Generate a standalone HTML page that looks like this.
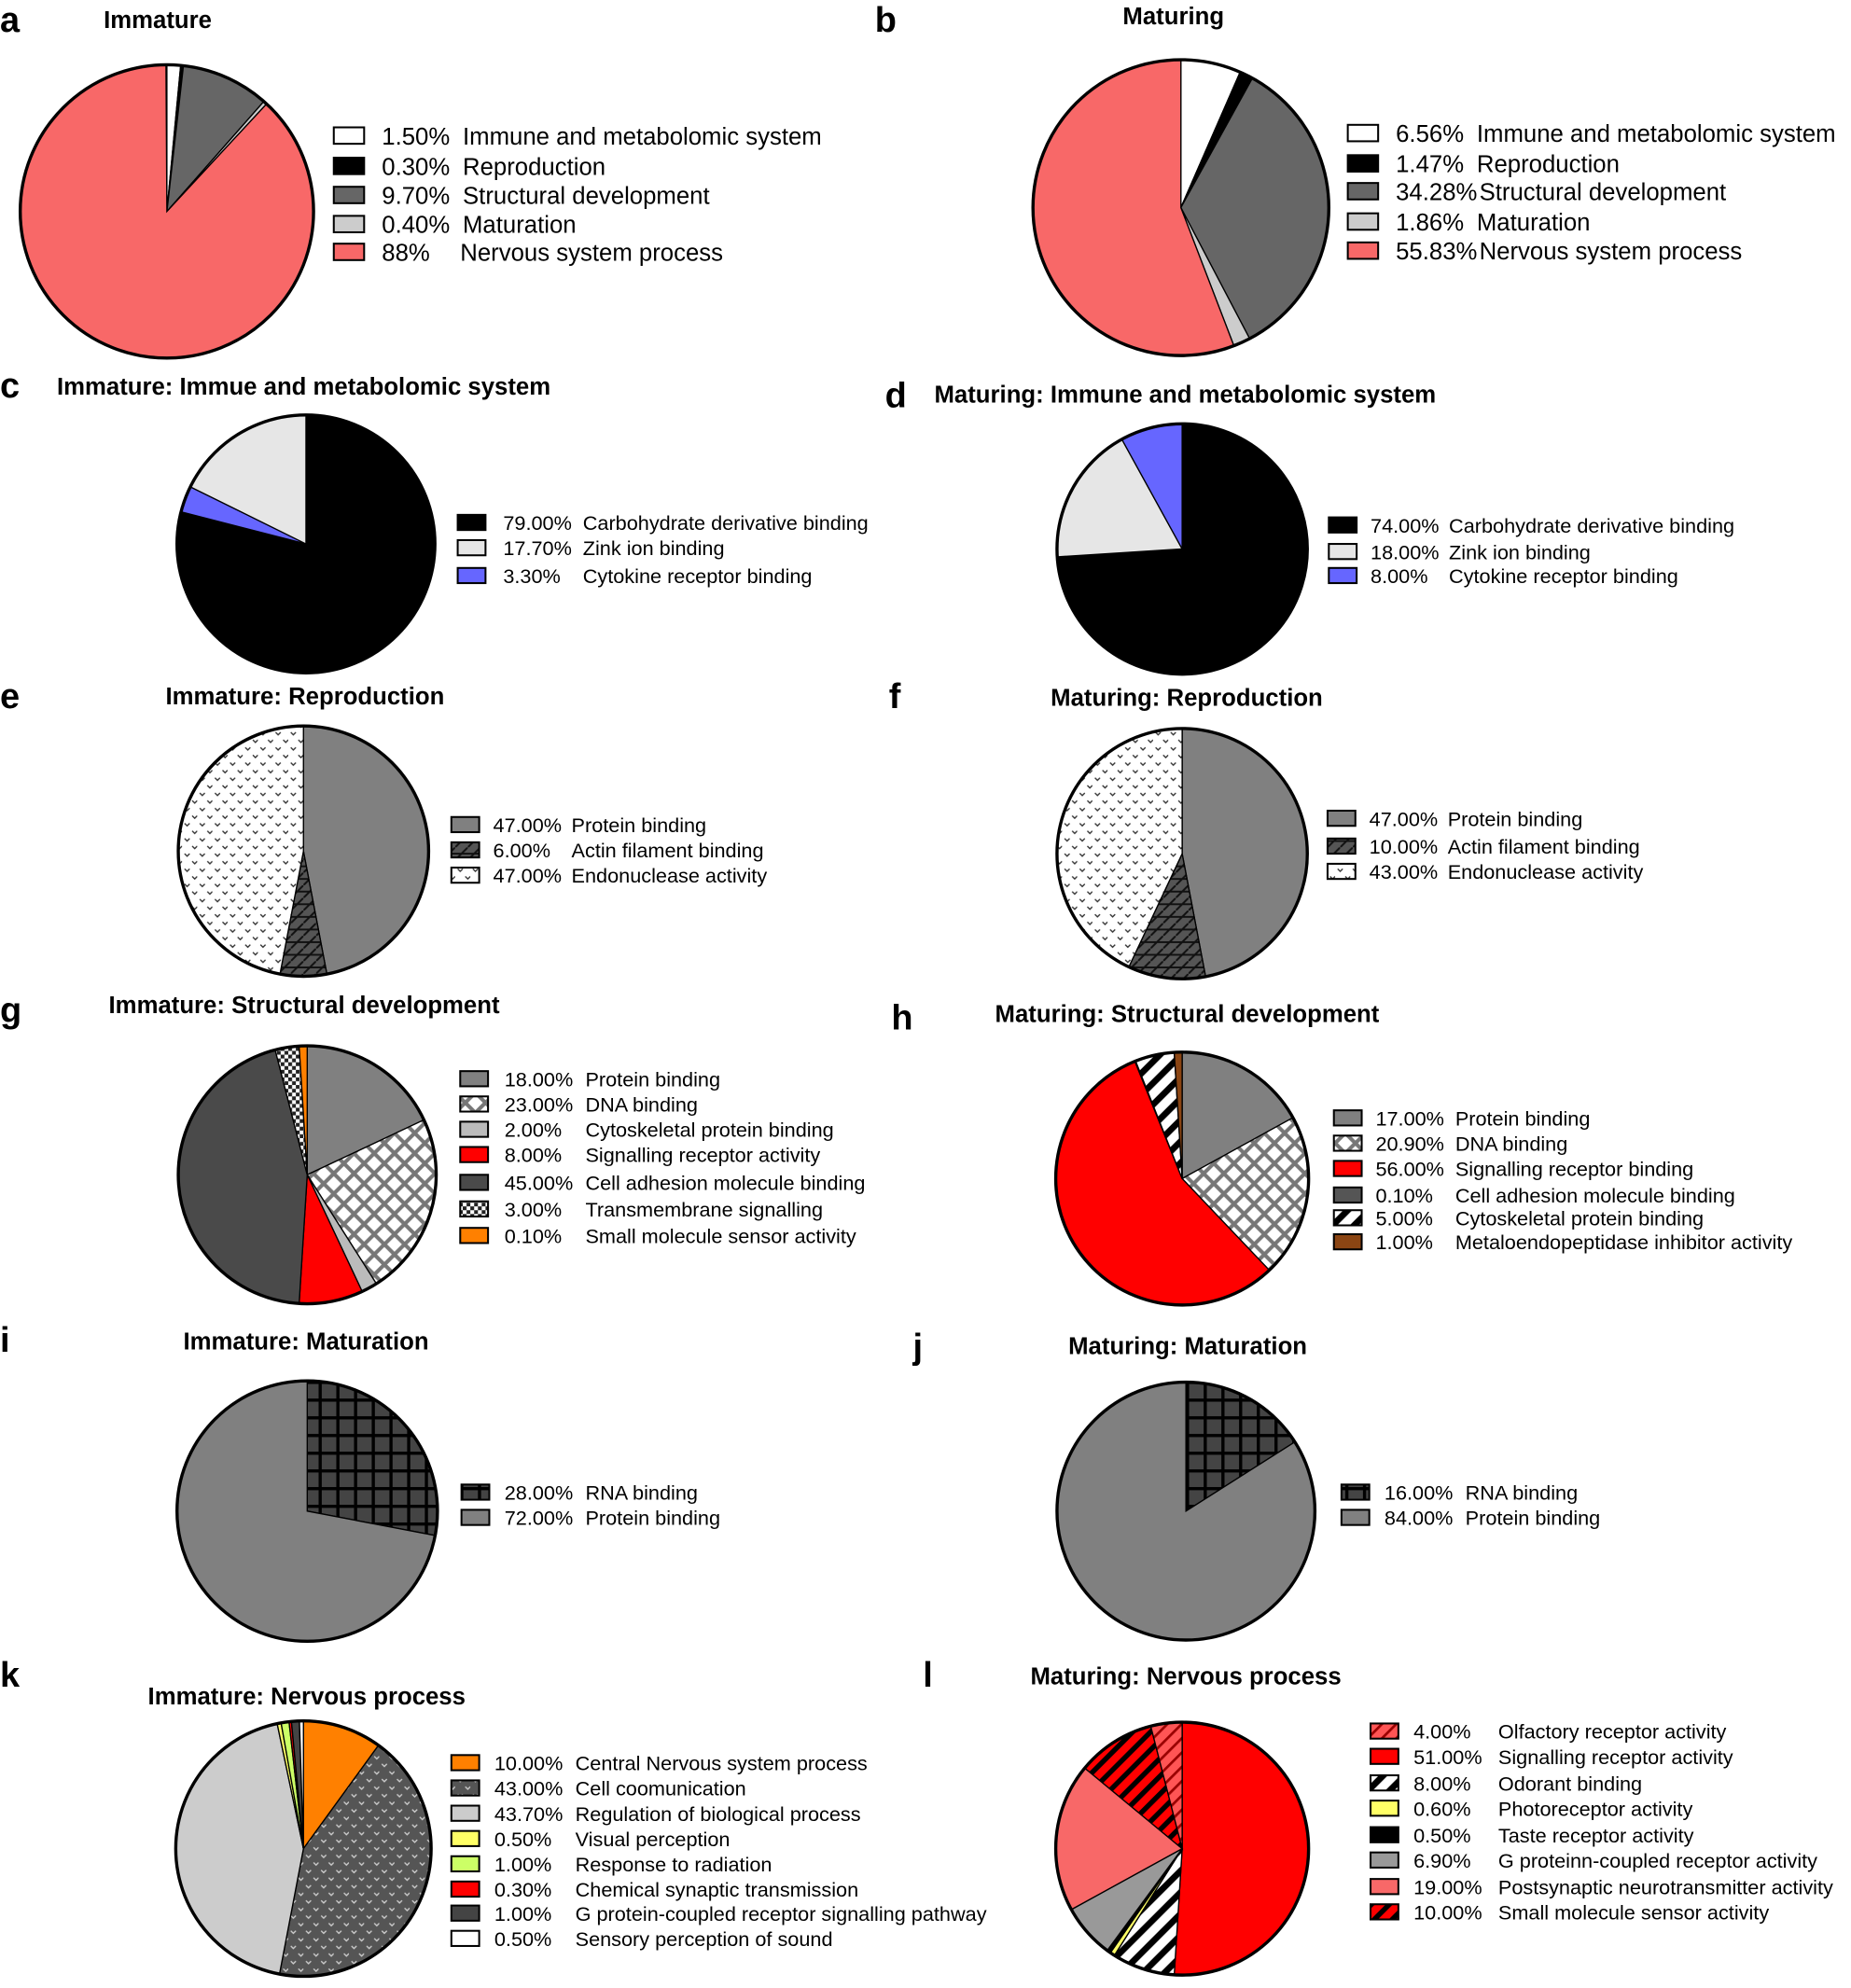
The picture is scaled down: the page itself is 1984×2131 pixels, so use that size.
<!DOCTYPE html>
<html><head><meta charset="utf-8"><style>
html,body{margin:0;padding:0;background:#fff}
svg{display:block}
text{font-family:"Liberation Sans",Arial,sans-serif;fill:#000}
.t{font-weight:bold;font-size:19px}
.L{font-weight:bold;font-size:28px}
.b{font-size:19px}
.s{font-size:16px}
</style></head><body>
<svg id="s" width="1984" height="2131" viewBox="0 0 1464 1572" xmlns="http://www.w3.org/2000/svg">
<defs>
<pattern id="dots" width="12" height="12" patternUnits="userSpaceOnUse"><rect width="12" height="12" fill="#fff"/><path d="M2 3l2 2 2-2M8 9l2 2 2-2" stroke="#333" fill="none" stroke-width="1"/></pattern>
<pattern id="hatch" width="10" height="10" patternUnits="userSpaceOnUse"><rect width="10" height="10" fill="#555"/><path d="M0 10L10 0M0 5h10" stroke="#111" stroke-width="1.5"/></pattern>
<pattern id="diam" width="16" height="16" patternUnits="userSpaceOnUse"><rect width="16" height="16" fill="#fff"/><path d="M0 8L8 0 16 8 8 16Z" fill="none" stroke="#777" stroke-width="3"/></pattern>
<pattern id="check" width="6" height="6" patternUnits="userSpaceOnUse"><rect width="6" height="6" fill="#fff"/><rect width="3" height="3" fill="#222"/><rect x="3" y="3" width="3" height="3" fill="#222"/></pattern>
<pattern id="stripe" width="12" height="12" patternUnits="userSpaceOnUse" patternTransform="rotate(45)"><rect width="12" height="12" fill="#fff"/><rect width="5" height="12" fill="#000"/></pattern>
<pattern id="rstripe" width="10" height="10" patternUnits="userSpaceOnUse" patternTransform="rotate(45)"><rect width="10" height="10" fill="#f00"/><rect width="4" height="10" fill="#000"/></pattern>
<pattern id="olf" width="8" height="8" patternUnits="userSpaceOnUse" patternTransform="rotate(45)"><rect width="8" height="8" fill="#f55"/><rect width="2" height="8" fill="#900"/></pattern>
<pattern id="grid" width="14" height="14" patternUnits="userSpaceOnUse"><rect width="14" height="14" fill="#444"/><path d="M0 1h14M1 0v14" stroke="#000" stroke-width="3"/></pattern>
<pattern id="cdots" width="12" height="12" patternUnits="userSpaceOnUse"><rect width="12" height="12" fill="#555"/><path d="M2 3l2 2 2-2M8 9l2 2 2-2" stroke="#ccc" fill="none" stroke-width="1"/></pattern>
</defs>
<g id="pies"></g>
<g>
<text class="L" x="0" y="25">a</text><text class="t" x="82" y="22">Immature</text>
<text class="L" x="692" y="25">b</text><text class="t" x="888" y="19">Maturing</text>
<text class="L" x="0" y="314">c</text><text class="t" x="45" y="312">Immature: Immue and metabolomic system</text>
<text class="L" x="700" y="322">d</text><text class="t" x="739" y="318">Maturing: Immune and metabolomic  system</text>
<text class="L" x="0" y="560">e</text><text class="t" x="131" y="557">Immature: Reproduction</text>
<text class="L" x="703" y="560">f</text><text class="t" x="831" y="558">Maturing: Reproduction</text>
<text class="L" x="0" y="808">g</text><text class="t" x="86" y="801">Immature: Structural development</text>
<text class="L" x="705" y="814">h</text><text class="t" x="787" y="808">Maturing: Structural development</text>
<text class="L" x="0" y="1069">i</text><text class="t" x="145" y="1067">Immature: Maturation</text>
<text class="L" x="722" y="1074">j</text><text class="t" x="845" y="1071">Maturing: Maturation</text>
<text class="L" x="0" y="1334">k</text><text class="t" x="117" y="1348">Immature: Nervous process</text>
<text class="L" x="730" y="1334">l</text><text class="t" x="815" y="1332">Maturing: Nervous process</text>
</g>
<g id="leg"></g>
</svg>
<script>
var P=document.getElementById('pies');
function pie(cx,cy,r,sl){var a=0,h='';
sl.forEach(function(s){var f=s[0]/100,a0=a,a1=a+f*2*Math.PI;a=a1;
var x0=cx+r*Math.sin(a0),y0=cy-r*Math.cos(a0),x1=cx+r*Math.sin(a1),y1=cy-r*Math.cos(a1);
var lg=(a1-a0)>Math.PI?1:0;
h+='<path d="M'+cx+' '+cy+'L'+x0+' '+y0+'A'+r+' '+r+' 0 '+lg+' 1 '+x1+' '+y1+'Z" fill="'+s[1]+'" stroke="#000" stroke-width="1"/>';});
h+='<circle cx="'+cx+'" cy="'+cy+'" r="'+r+'" fill="none" stroke="#000" stroke-width="2.5"/>';
P.innerHTML+=h;}
var SAL='#f86868',DG='#666',LG='#ccc',GR='#808080';
pie(132,167,116,[[1.5,'#fff'],[0.3,'#000'],[9.7,DG],[0.4,LG],[88,SAL]]);
pie(934,164,117,[[6.56,'#fff'],[1.47,'#000'],[34.28,DG],[1.86,LG],[55.83,SAL]]);
pie(242,430,102,[[79,'#000'],[3.3,'#6666ff'],[17.7,'#e6e6e6']]);
pie(935,434,99,[[74,'#000'],[18,'#e6e6e6'],[8,'#6666ff']]);
pie(240,673,99,[[47,GR],[6,'url(#hatch)'],[47,'url(#dots)']]);
pie(935,675,99,[[47,GR],[10,'url(#hatch)'],[43,'url(#dots)']]);
pie(243,929,102,[[18,GR],[23,'url(#diam)'],[2,'#bbb'],[8,'#f00'],[45,'#4a4a4a'],[3,'url(#check)'],[1,'#ff8000']]);
pie(935,932,100,[[17,GR],[20.9,'url(#diam)'],[56,'#f00'],[0.1,'#444'],[5,'url(#stripe)'],[1,'#8b4513']]);
pie(243,1195,103,[[28,'url(#grid)'],[72,GR]]);
pie(938,1195,102,[[16,'url(#grid)'],[84,GR]]);
pie(240,1462,101,[[10,'#ff8000'],[43,'url(#cdots)'],[43.7,LG],[0.5,'#ffff66'],[1,'#ccff66'],[0.3,'#f00'],[1,'#444'],[0.5,'#fff']]);
pie(935,1462,100,[[51,'#f00'],[8,'url(#stripe)'],[0.6,'#ffff66'],[0.5,'#000'],[6.9,'#999'],[19,SAL],[10,'url(#rstripe)'],[4,'url(#olf)']]);
var G=document.getElementById('leg');
function leg(sx,rows,sw,sh){var h='';rows.forEach(function(r){
h+='<rect x="'+sx+'" y="'+(r[0]-sh/2)+'" width="'+sw+'" height="'+sh+'" fill="'+r[1]+'" stroke="#000" stroke-width="1.5"/>';});G.innerHTML+=h;}
leg(264,[[107,'#fff'],[131,'#000'],[154,DG],[177,LG],[199,SAL]],24,13);
leg(1066,[[105,'#fff'],[129,'#000'],[151,DG],[175,LG],[198,SAL]],24,13);
leg(362,[[413,'#000'],[433,'#e6e6e6'],[455,'#6666ff']],22,12);
leg(1051,[[415,'#000'],[436,'#e6e6e6'],[455,'#6666ff']],22,12);
leg(357,[[652,GR],[672,'url(#hatch)'],[692,'url(#dots)']],22,12);
leg(1050,[[647,GR],[669,'url(#hatch)'],[689,'url(#dots)']],22,12);
leg(364,[[853,GR],[873,'url(#diam)'],[893,'#bbb'],[913,'#f00'],[935,'#4a4a4a'],[956,'url(#check)'],[977,'#ff8000']],22,12);
leg(1055,[[884,GR],[904,'url(#diam)'],[924,'#f00'],[945,'#555'],[963,'url(#stripe)'],[982,'#8b4513']],22,12);
leg(365,[[1180,'url(#grid)'],[1200,GR]],22,12);
leg(1061,[[1180,'url(#grid)'],[1200,GR]],22,12);
leg(357,[[1394,'#ff8000'],[1414,'url(#cdots)'],[1434,LG],[1454,'#ffff66'],[1474,'#ccff66'],[1494,'#f00'],[1513,'#444'],[1533,'#fff']],22,12);
leg(1084,[[1369,'url(#olf)'],[1389,'#f00'],[1410,'url(#stripe)'],[1430,'#ffff66'],[1451,'#000'],[1471,'#999'],[1492,SAL],[1512,'url(#rstripe)']],22,12);
</script>
<svg style="position:absolute;left:0;top:0" width="1984" height="2131" viewBox="0 0 1464 1572" xmlns="http://www.w3.org/2000/svg">
<g>
<text class="b" x="302" y="114">1.50%</text><text class="b" x="366" y="114">Immune and metabolomic system</text>
<text class="b" x="302" y="138">0.30%</text><text class="b" x="366" y="138">Reproduction</text>
<text class="b" x="302" y="161">9.70%</text><text class="b" x="366" y="161">Structural development</text>
<text class="b" x="302" y="184">0.40%</text><text class="b" x="366" y="184">Maturation</text>
<text class="b" x="302" y="206">88%</text><text class="b" x="364" y="206">Nervous system process</text>
<text class="b" x="1104" y="112">6.56%</text><text class="b" x="1168" y="112">Immune and metabolomic system</text>
<text class="b" x="1104" y="136">1.47%</text><text class="b" x="1168" y="136">Reproduction</text>
<text class="b" x="1104" y="158">34.28%</text><text class="b" x="1170" y="158">Structural development</text>
<text class="b" x="1104" y="182">1.86%</text><text class="b" x="1168" y="182">Maturation</text>
<text class="b" x="1104" y="205">55.83%</text><text class="b" x="1170" y="205">Nervous system process</text>
</g>
<g>
<text class="s" x="398" y="419">79.00%</text><text class="s" x="461" y="419">Carbohydrate derivative binding</text>
<text class="s" x="398" y="439">17.70%</text><text class="s" x="461" y="439">Zink ion binding</text>
<text class="s" x="398" y="461">3.30%</text><text class="s" x="461" y="461">Cytokine receptor binding</text>
<text class="s" x="1084" y="421">74.00%</text><text class="s" x="1146" y="421">Carbohydrate derivative binding</text>
<text class="s" x="1084" y="442">18.00%</text><text class="s" x="1146" y="442">Zink ion binding</text>
<text class="s" x="1084" y="461">8.00%</text><text class="s" x="1146" y="461">Cytokine receptor binding</text>
<text class="s" x="390" y="658">47.00%</text><text class="s" x="452" y="658">Protein binding</text>
<text class="s" x="390" y="678">6.00%</text><text class="s" x="452" y="678">Actin filament binding</text>
<text class="s" x="390" y="698">47.00%</text><text class="s" x="452" y="698">Endonuclease activity</text>
<text class="s" x="1083" y="653">47.00%</text><text class="s" x="1145" y="653">Protein binding</text>
<text class="s" x="1083" y="675">10.00%</text><text class="s" x="1145" y="675">Actin filament binding</text>
<text class="s" x="1083" y="695">43.00%</text><text class="s" x="1145" y="695">Endonuclease activity</text>
<text class="s" x="399" y="859">18.00%</text><text class="s" x="463" y="859">Protein binding</text>
<text class="s" x="399" y="879">23.00%</text><text class="s" x="463" y="879">DNA binding</text>
<text class="s" x="399" y="899">2.00%</text><text class="s" x="463" y="899">Cytoskeletal protein binding</text>
<text class="s" x="399" y="919">8.00%</text><text class="s" x="463" y="919">Signalling receptor activity</text>
<text class="s" x="399" y="941">45.00%</text><text class="s" x="463" y="941">Cell adhesion molecule binding</text>
<text class="s" x="399" y="962">3.00%</text><text class="s" x="463" y="962">Transmembrane signalling</text>
<text class="s" x="399" y="983">0.10%</text><text class="s" x="463" y="983">Small molecule sensor activity</text>
<text class="s" x="1088" y="890">17.00%</text><text class="s" x="1151" y="890">Protein binding</text>
<text class="s" x="1088" y="910">20.90%</text><text class="s" x="1151" y="910">DNA binding</text>
<text class="s" x="1088" y="930">56.00%</text><text class="s" x="1151" y="930">Signalling receptor binding</text>
<text class="s" x="1088" y="951">0.10%</text><text class="s" x="1151" y="951">Cell adhesion molecule binding</text>
<text class="s" x="1088" y="969">5.00%</text><text class="s" x="1151" y="969">Cytoskeletal protein binding</text>
<text class="s" x="1088" y="988">1.00%</text><text class="s" x="1151" y="988">Metaloendopeptidase inhibitor activity</text>
<text class="s" x="399" y="1186">28.00%</text><text class="s" x="463" y="1186">RNA binding</text>
<text class="s" x="399" y="1206">72.00%</text><text class="s" x="463" y="1206">Protein binding</text>
<text class="s" x="1095" y="1186">16.00%</text><text class="s" x="1159" y="1186">RNA binding</text>
<text class="s" x="1095" y="1206">84.00%</text><text class="s" x="1159" y="1206">Protein binding</text>
<text class="s" x="391" y="1400">10.00%</text><text class="s" x="455" y="1400">Central Nervous system process</text>
<text class="s" x="391" y="1420">43.00%</text><text class="s" x="455" y="1420">Cell coomunication</text>
<text class="s" x="391" y="1440">43.70%</text><text class="s" x="455" y="1440">Regulation of biological process</text>
<text class="s" x="391" y="1460">0.50%</text><text class="s" x="455" y="1460">Visual perception</text>
<text class="s" x="391" y="1480">1.00%</text><text class="s" x="455" y="1480">Response to radiation</text>
<text class="s" x="391" y="1500">0.30%</text><text class="s" x="455" y="1500">Chemical synaptic transmission</text>
<text class="s" x="391" y="1519">1.00%</text><text class="s" x="455" y="1519">G protein-coupled receptor signalling pathway</text>
<text class="s" x="391" y="1539">0.50%</text><text class="s" x="455" y="1539">Sensory perception of sound</text>
<text class="s" x="1118" y="1375">4.00%</text><text class="s" x="1185" y="1375">Olfactory receptor activity</text>
<text class="s" x="1118" y="1395">51.00%</text><text class="s" x="1185" y="1395">Signalling receptor activity</text>
<text class="s" x="1118" y="1416">8.00%</text><text class="s" x="1185" y="1416">Odorant binding</text>
<text class="s" x="1118" y="1436">0.60%</text><text class="s" x="1185" y="1436">Photoreceptor activity</text>
<text class="s" x="1118" y="1457">0.50%</text><text class="s" x="1185" y="1457">Taste receptor activity</text>
<text class="s" x="1118" y="1477">6.90%</text><text class="s" x="1185" y="1477">G proteinn-coupled receptor activity</text>
<text class="s" x="1118" y="1498">19.00%</text><text class="s" x="1185" y="1498">Postsynaptic neurotransmitter activity</text>
<text class="s" x="1118" y="1518">10.00%</text><text class="s" x="1185" y="1518">Small molecule sensor activity</text>
</g>
</svg>
</body></html>
